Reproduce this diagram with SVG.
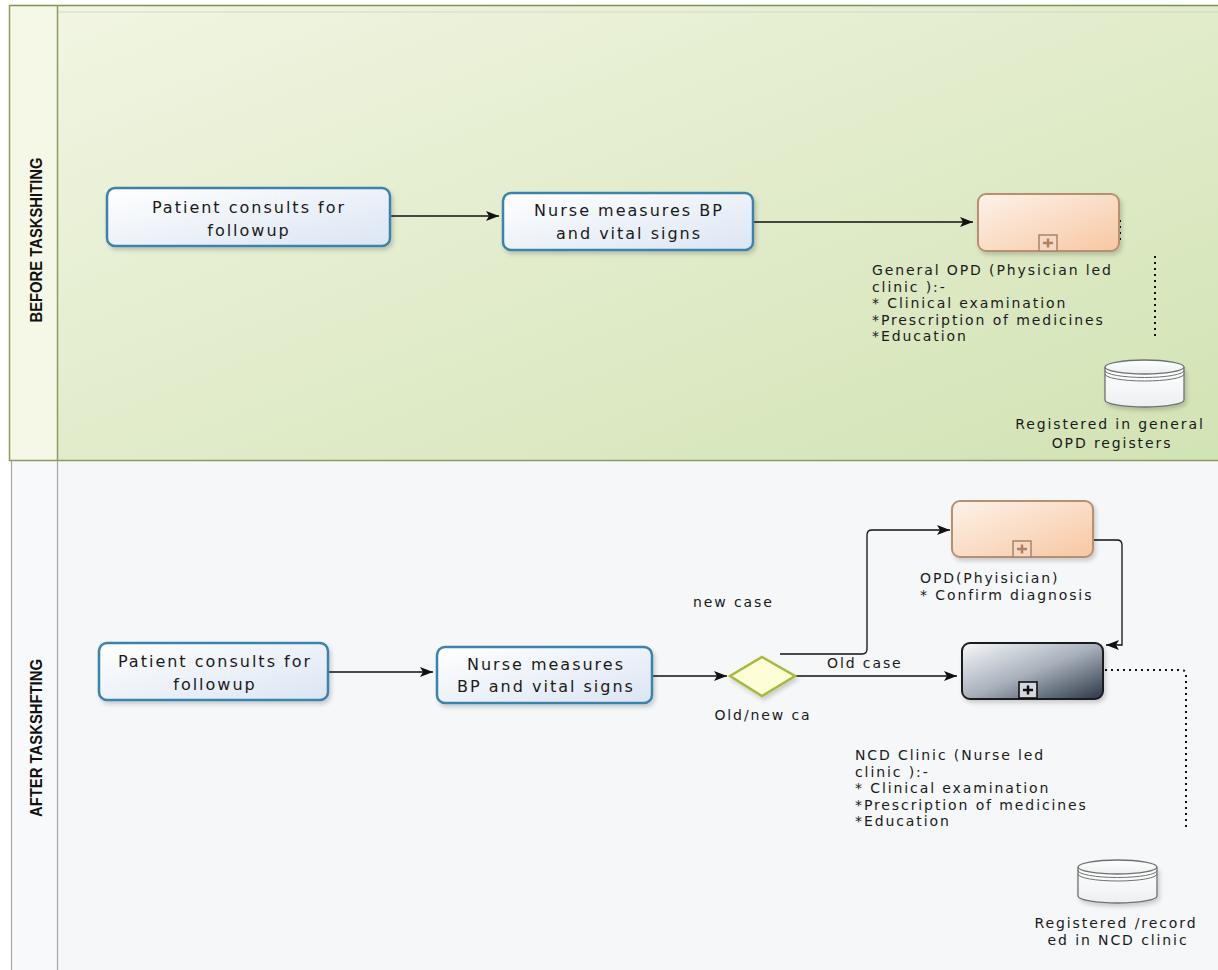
<svg xmlns="http://www.w3.org/2000/svg" width="1218" height="970" viewBox="0 0 1218 970">
<defs>
<linearGradient id="gTop" x1="0" y1="0" x2="1" y2="1"><stop offset="0" stop-color="#f1f5e2"/><stop offset="1" stop-color="#d2e3b4"/></linearGradient>
<linearGradient id="gTask" x1="0" y1="0" x2="1" y2="1"><stop offset="0" stop-color="#ffffff"/><stop offset="1" stop-color="#dbe5f3"/></linearGradient>
<linearGradient id="gOrange" x1="0" y1="0" x2="1" y2="1"><stop offset="0" stop-color="#fdf2e9"/><stop offset="1" stop-color="#f7c7a3"/></linearGradient>
<linearGradient id="gNcd" x1="0" y1="0" x2="1" y2="1"><stop offset="0" stop-color="#f8f9fb"/><stop offset="0.5" stop-color="#a9b1bc"/><stop offset="1" stop-color="#2b3747"/></linearGradient>
<linearGradient id="gStore" x1="0" y1="0" x2="0" y2="1"><stop offset="0" stop-color="#ffffff"/><stop offset="1" stop-color="#eceff1"/></linearGradient>
<filter id="sh" x="-10%" y="-10%" width="130%" height="140%"><feDropShadow dx="2" dy="3" stdDeviation="2" flood-color="#000" flood-opacity="0.18"/></filter>
<marker id="arr" markerUnits="userSpaceOnUse" markerWidth="14" markerHeight="10" refX="13" refY="5" orient="auto"><path d="M0,0 L13,5 L0,10 L3,5 z" fill="#111"/></marker>
<clipPath id="clipOpd"><rect x="900" y="560" width="222" height="43"/></clipPath>
<style>
.task{fill:url(#gTask);stroke:#3d82ac;stroke-width:2.5}
.sub{fill:url(#gOrange);stroke:#b8906f;stroke-width:2}
.ncd{fill:url(#gNcd);stroke:#1e1e1e;stroke-width:2}
.mk{fill:#f6d8c2;stroke:#a88468;stroke-width:1.5}
.mkp{stroke:#b08060;stroke-width:2.5}
.lbl{font-family:"DejaVu Sans","Open Sans",sans-serif;font-size:16px;letter-spacing:2px;fill:#1a1a1a}
.ann{font-family:"DejaVu Sans","Open Sans",sans-serif;font-size:14px;letter-spacing:1.9px;fill:#1a1a1a}
.lane{font-family:"Liberation Sans",Arial,sans-serif;font-size:16px;font-weight:bold;fill:#111}
.con{fill:none;stroke:#111;stroke-width:1.3}
.dot{fill:none;stroke:#111;stroke-width:2;stroke-dasharray:2 4}
.store{fill:url(#gStore);stroke:#707070;stroke-width:1.3}
</style>
</defs>

<g id="lanes">
<rect x="57" y="6" width="1161" height="454" fill="url(#gTop)"/>
<rect x="9" y="6" width="48" height="454" fill="#f5f8e7"/>
<rect x="57" y="461" width="1161" height="509" fill="#f5f7f9"/>
<rect x="11" y="461" width="46" height="509" fill="#f8f9fa"/>
<line x1="57" y1="12" x2="1218" y2="12" stroke="#d4dcc6" stroke-width="1"/>
<line x1="9" y1="5.5" x2="1218" y2="5.5" stroke="#7d9250" stroke-width="1.6"/>
<line x1="9.5" y1="5" x2="9.5" y2="461" stroke="#8a9c62" stroke-width="1.5"/>
<line x1="57.5" y1="5" x2="57.5" y2="461" stroke="#8a9c62" stroke-width="1.5"/>
<line x1="11.5" y1="461" x2="11.5" y2="970" stroke="#a4a7ab" stroke-width="1.2"/>
<line x1="57.5" y1="461" x2="57.5" y2="970" stroke="#a4a7ab" stroke-width="1.2"/>
<line x1="9" y1="460.5" x2="1218" y2="460.5" stroke="#8a9c62" stroke-width="1.5"/>
<text class="lane" transform="translate(41.5,240) rotate(-90)" text-anchor="middle" textLength="165" lengthAdjust="spacingAndGlyphs">BEFORE TASKSHITING</text>
<text class="lane" transform="translate(41.5,738) rotate(-90)" text-anchor="middle" textLength="158" lengthAdjust="spacingAndGlyphs">AFTER TASKSHFTING</text>
</g>

<g id="connectors">
<path class="con" d="M390,216 H499" marker-end="url(#arr)"/>
<path class="con" d="M753,222 H973" marker-end="url(#arr)"/>
<path class="con" d="M328,672 H433" marker-end="url(#arr)"/>
<path class="con" d="M652,676 H727" marker-end="url(#arr)"/>
<path class="con" d="M795,676 H957" marker-end="url(#arr)"/>
<path class="con" d="M780,654 H862 Q867,654 867,649 V535 Q867,530 872,530 H950" marker-end="url(#arr)"/>
<path class="con" d="M1093,540 H1117 Q1122,540 1122,545 V645 H1106" marker-end="url(#arr)"/>
<path class="dot" d="M1120,220 V240"/>
<path class="dot" d="M1155,256 V340"/>
<path class="dot" d="M1105,670 H1181 Q1186,670 1186,675 V828"/>
<text class="ann" x="693" y="607">new case</text>
<text class="ann" x="827" y="668">Old case</text>
</g>

<g id="top-patient">
<rect class="task" x="107" y="188" width="283" height="58" rx="8" filter="url(#sh)"/>
<text class="lbl" x="249" y="213" text-anchor="middle">Patient consults for</text>
<text class="lbl" x="249" y="236" text-anchor="middle">followup</text>
</g>

<g id="top-nurse">
<rect class="task" x="503" y="193" width="250" height="57" rx="8" filter="url(#sh)"/>
<text class="lbl" x="629" y="216" text-anchor="middle">Nurse measures BP</text>
<text class="lbl" x="629" y="239" text-anchor="middle">and vital signs</text>
</g>

<g id="top-general-opd">
<rect class="sub" x="978" y="194" width="141" height="57" rx="8" filter="url(#sh)"/>
<rect class="mk" x="1039" y="235" width="18" height="16"/>
<path class="mkp" d="M1043,243 H1053 M1048,238.5 V247.5"/>
<text class="ann" x="872" y="275">General OPD (Physician led</text>
<text class="ann" x="872" y="291.5">clinic ):-</text>
<text class="ann" x="872" y="308">* Clinical examination</text>
<text class="ann" x="872" y="324.5">*Prescription of medicines</text>
<text class="ann" x="872" y="341">*Education</text>
</g>

<g id="top-store">
<path class="store" d="M1105,367 V400 A39.5,7 0 0 0 1184,400 V367" filter="url(#sh)"/>
<ellipse class="store" cx="1144.5" cy="367" rx="39.5" ry="7"/>
<path fill="none" stroke="#707070" stroke-width="1" d="M1105,370.5 A39.5,7 0 0 0 1184,370.5 M1105,374 A39.5,7 0 0 0 1184,374"/>
<text class="ann" x="1110" y="429" text-anchor="middle">Registered in general</text>
<text class="ann" x="1112" y="448" text-anchor="middle">OPD registers</text>
</g>

<g id="bottom-patient">
<rect class="task" x="99" y="643" width="229" height="57" rx="8" filter="url(#sh)"/>
<text class="lbl" x="215" y="667" text-anchor="middle">Patient consults for</text>
<text class="lbl" x="215" y="690" text-anchor="middle">followup</text>
</g>

<g id="bottom-nurse">
<rect class="task" x="437" y="647" width="215" height="56" rx="8" filter="url(#sh)"/>
<text class="lbl" x="546" y="670" text-anchor="middle">Nurse measures</text>
<text class="lbl" x="546" y="692" text-anchor="middle">BP and vital signs</text>
</g>

<g id="gateway">
<polygon points="762,657 795,676 762,696 730,676" fill="#fdfdd8" stroke="#a9b83a" stroke-width="2.5" filter="url(#sh)"/>
<text class="ann" x="763" y="720" text-anchor="middle">Old/new ca</text>
</g>

<g id="bottom-opd">
<rect class="sub" x="952" y="501" width="141" height="56" rx="8" filter="url(#sh)"/>
<rect class="mk" x="1013" y="541" width="18" height="16"/>
<path class="mkp" d="M1017,549 H1027 M1022,544.5 V553.5"/>
<g clip-path="url(#clipOpd)">
<text class="ann" x="920" y="583">OPD(Phyisician)</text>
<text class="ann" x="920" y="600">* Confirm diagnosis</text>
</g>
</g>

<g id="ncd-clinic">
<rect class="ncd" x="962" y="643" width="141" height="56" rx="8" filter="url(#sh)"/>
<rect x="1019" y="682" width="18" height="16" fill="#d3d7dd" stroke="#111" stroke-width="1.6"/>
<path d="M1023,690 H1033 M1028,685.5 V694.5" stroke="#111" stroke-width="2.5"/>
<text class="ann" x="855" y="760">NCD Clinic (Nurse led</text>
<text class="ann" x="855" y="776.5">clinic ):-</text>
<text class="ann" x="855" y="793">* Clinical examination</text>
<text class="ann" x="855" y="809.5">*Prescription of medicines</text>
<text class="ann" x="855" y="826">*Education</text>
</g>

<g id="bottom-store">
<path class="store" d="M1078,867 V896 A39.5,7 0 0 0 1157,896 V867" filter="url(#sh)"/>
<ellipse class="store" cx="1117.5" cy="867" rx="39.5" ry="7"/>
<path fill="none" stroke="#707070" stroke-width="1" d="M1078,870.5 A39.5,7 0 0 0 1157,870.5 M1078,874 A39.5,7 0 0 0 1157,874"/>
<text class="ann" x="1116" y="928" text-anchor="middle">Registered /record</text>
<text class="ann" x="1118" y="945" text-anchor="middle">ed in NCD clinic</text>
</g>
</svg>
